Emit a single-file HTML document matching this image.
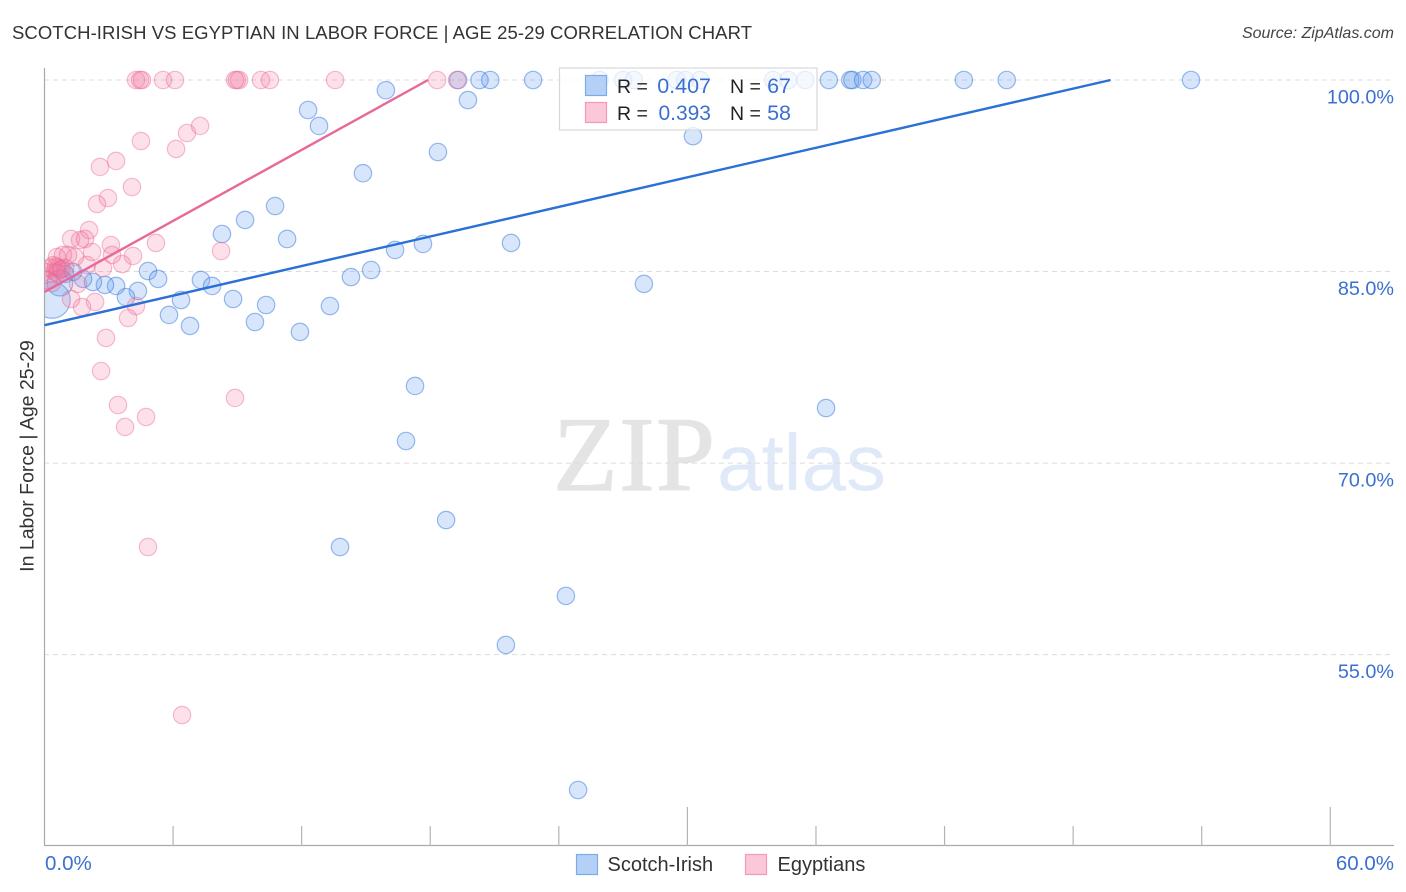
<!DOCTYPE html>
<html lang="en">
<head>
<meta charset="utf-8">
<title>Scotch-Irish vs Egyptian in Labor Force | Age 25-29 Correlation Chart</title>
<style>
html,body{margin:0;padding:0;background:#fff;}
body{width:1406px;height:892px;overflow:hidden;}
svg{display:block;font-family:"Liberation Sans",sans-serif;}
</style>
</head>
<body>
<svg id="chart" xmlns="http://www.w3.org/2000/svg" width="1406" height="892" viewBox="0 0 1406 892">
  <defs>
    <clipPath id="plot-clip"><rect x="45" y="60" width="1350" height="785"></rect></clipPath>
  </defs>
  <rect x="0" y="0" width="1406" height="892" fill="#fff"></rect>
  <text x="12" y="39" font-size="18.5" fill="#333" textLength="740" lengthAdjust="spacing">SCOTCH-IRISH VS EGYPTIAN IN LABOR FORCE | AGE 25-29 CORRELATION CHART</text>
  <text x="1394" y="38" font-size="16" font-style="italic" fill="#444" text-anchor="end">Source: ZipAtlas.com</text>
  <g>
    <text x="553" y="490" font-family="'Liberation Serif',serif" font-size="106" fill="#e4e4e4" stroke="#e4e4e4" stroke-width="1.2" textLength="162">ZIP</text>
    <text x="717" y="490" font-size="80" fill="#dfe9f8">atlas</text>
  </g>
  <g id="grid"></g>
  <g id="axes"></g>
  <g id="points" clip-path="url(#plot-clip)"></g>
  <g id="lines"></g>
  <text transform="translate(33.5,456) rotate(-90)" font-size="19.5" fill="#333" text-anchor="middle">In Labor Force | Age 25-29</text>

  <g>
    <rect x="559.5" y="68" width="257.5" height="62" fill="#fff" fill-opacity="0.75" stroke="#d8d8d8" stroke-width="1.2"></rect>
    <rect x="585.5" y="75.5" width="21" height="20" fill="#b5d0f6" stroke="#7eaae8" stroke-width="1.2"></rect>
    <rect x="585.5" y="102.5" width="21" height="20" fill="#fcc7d8" stroke="#f09ab8" stroke-width="1.2"></rect>
    <text x="617" y="93" font-size="19.5" fill="#222">R =</text>
    <text x="711" y="93" font-size="21.5" fill="#3a70d0" text-anchor="end">0.407</text>
    <text x="730" y="93" font-size="19.5" fill="#222">N =</text>
    <text x="791" y="93" font-size="21.5" fill="#3a70d0" text-anchor="end">67</text>
    <text x="617" y="120" font-size="19.5" fill="#222">R =</text>
    <text x="711" y="120" font-size="21" fill="#3a70d0" text-anchor="end">0.393</text>
    <text x="730" y="120" font-size="19.5" fill="#222">N =</text>
    <text x="791" y="120" font-size="21.5" fill="#3a70d0" text-anchor="end">58</text>
  </g>

  <g>
    <rect x="576.5" y="854.5" width="21" height="20" fill="#b5d0f6" stroke="#7eaae8" stroke-width="1.2"></rect>
    <text x="607.5" y="871" font-size="20" fill="#333">Scotch-Irish</text>
    <rect x="745.5" y="854.5" width="21" height="20" fill="#fcc7d8" stroke="#f09ab8" stroke-width="1.2"></rect>
    <text x="777.5" y="871" font-size="20" fill="#333">Egyptians</text>
  </g>
</svg>
<script>
var xTicks = [0, 6, 12, 18, 24, 30, 36, 42, 48, 54, 60];
var xTickLabels = ["0.0%", "60.0%"];
var yTicks = [100, 85, 70, 55];
var yTickLabels = ["100.0%", "85.0%", "70.0%", "55.0%"];

var scotchX = [19.3,20.3,20.8,22.8,25.9,27.0,27.5,29.5,29.9,30.6,34.0,34.7,35.5,36.6,37.6,37.7,38.2,38.6,42.9,44.9,53.5,
  15.93,12.3,12.81,19.76,18.36,30.26,14.86,10.76,9.36,8.28,11.32,16.36,17.66,21.77,15.24,14.3,4.83,5.3,7.3,7.82,27.97,4.36,3.8,6.37,8.8,10.34,13.32,5.81,9.82,6.79,11.92,17.29,16.87,36.47,18.74,13.79,24.33,21.53,24.9,
  3.34,2.82,2.26,1.8,1.33,0.96,0.72,0.35];
var scotchY = [100,100,100,100,100,100,100,100,100,100,100,100,100,100,100,100,100,100,100,100,100,
  99.2,97.65,96.4,98.43,94.36,95.6,92.7,90.13,89.04,87.94,87.55,86.69,87.16,87.24,85.12,84.57,85.04,84.42,84.34,83.87,84.03,83.48,83.0,82.77,82.85,82.38,82.3,81.6,81.05,80.74,80.27,76.04,71.73,74.31,65.54,63.43,59.6,55.76,44.4,
  83.87,83.95,84.18,84.42,84.97,84.81,84.1,82.77];
var scotchWeight = [1,1,1,1,1,1,1,1,1,1,1,1,1,1,1,1,1,1,1,1,1,
  1,1,1,1,1,1,1,1,1,1,1,1,1,1,1,1,1,1,1,1,1,1,1,1,1,1,1,1,1,1,1,1,1,1,1,1,1,1,1,
  1,1,1,1,1,1,2.2,4.4];

var egyptX = [4.27,4.46,4.55,5.53,6.09,8.89,8.98,9.08,10.1,10.52,13.56,18.32,19.25,
  4.5,3.34,2.59,4.08,2.96,2.45,6.14,6.65,7.26,2.08,1.24,1.66,1.89,5.2,8.24,3.1,4.13,3.15,2.22,1.42,0.86,0.58,1.1,3.62,2.73,1.98,2.36,1.75,1.24,4.27,3.9,2.87,2.64,8.89,3.43,4.74,3.76,4.83,6.42,
  0.26,0.49,0.63,0.72,0.16,0.35,0.96,0.02,1.56,0.4,0.6,0.8,0.54];
var egyptY = [100,100,100,100,100,100,100,100,100,100,100,100,100,
  95.22,93.66,93.19,91.62,90.76,90.29,94.6,95.85,96.4,88.25,87.55,87.47,87.55,87.24,86.61,87.08,86.22,86.3,86.53,86.14,86.3,86.14,86.3,85.59,85.28,85.51,82.62,82.22,82.85,82.3,81.36,79.8,77.21,75.1,74.55,73.61,72.83,63.43,50.27,
  85.28,84.97,85.28,85.12,84.34,84.1,85.28,84.97,84.03,85.5,84.9,85.2,85.4];

var scotchLineX = [0, 49.75];
var scotchLineY = [80.8, 100];
var egyptLineX = [0, 17.9];
var egyptLineY = [83.4, 100];

var NS = 'http://www.w3.org/2000/svg';
function xScale(v) { return 44.5 + v * 21.43; }
function yScale(v) { return 80 + (100 - v) * 12.77; }
function radius(w) { return 8.7 * Math.sqrt(w); }
function make(tag, attrs, parent) {
  var el = document.createElementNS(NS, tag);
  for (var k in attrs) { el.setAttribute(k, attrs[k]); }
  parent.appendChild(el);
  return el;
}

var grid = document.getElementById('grid');
var axes = document.getElementById('axes');
var pts = document.getElementById('points');
var lines = document.getElementById('lines');

yTicks.forEach(function (t, i) {
  var g = make('line', {x1: 44, x2: 1394, y1: yScale(t), y2: yScale(t), stroke: '#dcdcdc', 'stroke-width': 1, 'stroke-dasharray': '5 4'}, grid);
  
  
  var lab = make('text', {x: 1394, y: yScale(t) + 23.5, 'font-size': 19.8, fill: '#3a70d0', 'text-anchor': 'end'}, axes);
  lab.textContent = yTickLabels[i];
  
  
});

var yAxis = make('line', {x1: 44.5, x2: 44.5, y1: 68, y2: 846, stroke: '#aaa', 'stroke-width': 1.2}, axes);


var xAxis = make('line', {x1: 44, x2: 1394, y1: 845.5, y2: 845.5, stroke: '#aaa', 'stroke-width': 1.2}, axes);



xTicks.forEach(function (t) {
  if (t === 0) { return; }
  var top = (t % 30 === 0) ? 807 : 826;
  var tk = make('line', {x1: xScale(t), x2: xScale(t), y1: top, y2: 846, stroke: '#b4b4b4', 'stroke-width': 1.2}, axes);
  
  
});

var x0 = make('text', {x: xScale(xTicks[0]) + 0.5, y: 870, 'font-size': 20.5, fill: '#3a70d0'}, axes);
x0.textContent = xTickLabels[0];


var x1 = make('text', {x: 1394, y: 870, 'font-size': 20.5, fill: '#3a70d0', 'text-anchor': 'end'}, axes);
x1.textContent = xTickLabels[1];



scotchX.forEach(function (v, i) {
  var c = make('circle', {cx: xScale(v), cy: yScale(scotchY[i]), r: radius(scotchWeight[i]), fill: 'rgb(100,160,240)', 'fill-opacity': 0.26, stroke: 'rgb(55,120,220)', 'stroke-opacity': 0.5, 'stroke-width': 1.2}, pts);
  
  
});
egyptX.forEach(function (v, i) {
  var c = make('circle', {cx: xScale(v), cy: yScale(egyptY[i]), r: 8.7, fill: 'rgb(240,120,160)', 'fill-opacity': 0.22, stroke: 'rgb(235,100,140)', 'stroke-opacity': 0.42, 'stroke-width': 1.2}, pts);
  
  
});

var l1 = make('line', {x1: xScale(egyptLineX[0]), y1: yScale(egyptLineY[0]), x2: xScale(egyptLineX[1]), y2: yScale(egyptLineY[1]), stroke: '#e8689a', 'stroke-width': 2.4}, lines);


var l2 = make('line', {x1: xScale(scotchLineX[0]), y1: yScale(scotchLineY[0]), x2: xScale(scotchLineX[1]), y2: yScale(scotchLineY[1]), stroke: '#2a70d6', 'stroke-width': 2.4}, lines);


</script>
</body>
</html>
